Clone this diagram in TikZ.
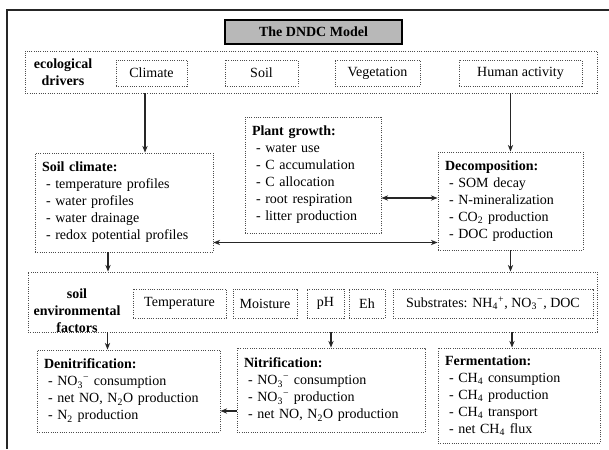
\documentclass[tikz,border=0pt]{standalone}
\usepackage{fontspec}
\setmainfont{Liberation Serif}
\usepackage{tikz}
\usetikzlibrary{arrows.meta,positioning}
\newdimen\px
\px=0.75pt
\newcommand{\litem}[1]{\hspace*{3pt}- #1}

\begin{document}
\begin{tikzpicture}[
	x=0.75pt, y=-0.75pt,
	every node/.style={font=\fontsize{10.5}{12.75}\selectfont},
	titlebox/.style={draw, line width=1pt, fill=black!28, inner sep=0pt},
	rowbox/.style={draw=black!70, densely dotted, line width=0.7pt, inner sep=0pt},
	itembox/.style={draw=black!70, densely dotted, line width=0.7pt, inner sep=0pt, minimum height=#1},
	listbox/.style={draw=black!70, densely dotted, line width=0.7pt, align=left, inner xsep=7\px, inner ysep=0pt},
	arrow/.style={-{Stealth[length=5pt,width=4pt]}, line width=0.8pt, black!85},
	twoway/.style={{Stealth[length=5pt,width=4pt]}-{Stealth[length=5pt,width=4pt]}, line width=0.8pt, black!85}
	]
	\useasboundingbox (0,0) rectangle (609,449);
	
	% outer frame
	\draw[line width=1.1pt, black!85] (7,449) -- (7,10) -- (609,10);
	
	\node[titlebox, minimum width=177\px, minimum height=24\px] (title) at (313.5,32) {\textbf{The DNDC Model}};
	
	% ecological drivers
	\node[rowbox, minimum width=572\px, minimum height=42\px] (drivers) at (311,72) {};
	\node[align=center] (drvlabel) at (63,72) {\textbf{ecological}\\\textbf{drivers}};
	\node[itembox=26\px, minimum width=71\px] (Climate) at (151.5,73) {Climate};
	\node[itembox=26\px, minimum width=73\px] (Soil) at (261.5,73) {Soil};
	\node[itembox=26\px, minimum width=85\px] (Veg) at (377.5,73) {Vegetation};
	\node[itembox=26\px, minimum width=123\px] (Human) at (520.5,73) {Human activity};
	
	% processes
	\node[listbox, text width=164\px, minimum height=99\px] (SoilClim) at (124,202.5) {\textbf{Soil climate:}\\
		\litem{temperature profiles}\\ \litem{water profiles}\\ \litem{water drainage}\\ \litem{redox potential profiles}};
	\node[listbox, text width=122\px, minimum height=116\px] (PlantG) at (313,175) {\textbf{Plant growth:}\\
		\litem{water use}\\ \litem{C accumulation}\\ \litem{C allocation}\\ \litem{root respiration}\\ \litem{litter production}};
	\node[listbox, text width=131\px, minimum height=98\px] (Decomp) at (510.5,201) {\textbf{Decomposition:}\\
		\litem{SOM decay}\\ \litem{N-mineralization}\\ \litem{CO\textsubscript{2} production}\\ \litem{DOC production}};
	
	% soil environmental factors
	\node[rowbox, minimum width=569\px, minimum height=60\px] (SoilEnv) at (312.5,302) {};
	\node[align=center] (envlabel) at (77,311) {\textbf{soil}\\\textbf{environmental}\\\textbf{factors}};
	\node[itembox=29\px, minimum width=93\px] (Temp) at (179.5,303.5) {Temperature};
	\node[itembox=29\px, minimum width=64\px] (Moist) at (265,303.5) {Moisture};
	\node[itembox=29\px, minimum width=37\px] (pH) at (325.5,303.5) {pH};
	\node[itembox=29\px, minimum width=36\px] (Eh) at (367,303.5) {Eh};
	\node[itembox=29\px, minimum width=200\px] (Subs) at (493,303.5) {Substrates: NH\textsubscript{4}\textsuperscript{+}, NO\textsubscript{3}\textsuperscript{−}, DOC};
	
	% gas production
	\node[listbox, text width=169\px, minimum height=82\px] (Denit) at (128.5,391) {\textbf{Denitrification:}\\
		\litem{NO\textsubscript{3}\textsuperscript{−} consumption}\\ \litem{net NO, N\textsubscript{2}O production}\\ \litem{N\textsubscript{2} production}};
	\node[listbox, text width=174\px, minimum height=84\px] (Nitrif) at (331,390) {\textbf{Nitrification:}\\
		\litem{NO\textsubscript{3}\textsuperscript{−} consumption}\\ \litem{NO\textsubscript{3}\textsuperscript{−} production}\\ \litem{net NO, N\textsubscript{2}O production}};
	\node[listbox, text width=148\px, minimum height=95\px] (Ferm) at (519,395.5) {\textbf{Fermentation:}\\
		\litem{CH\textsubscript{4} consumption}\\ \litem{CH\textsubscript{4} production}\\ \litem{CH\textsubscript{4} transport}\\ \litem{net CH\textsubscript{4} flux}};
	
	% connectors
	\draw[arrow] ([xshift=-6.5\px]Climate.south |- drivers.south) -- ([xshift=-6.5\px]Climate.south |- SoilClim.north);
	\draw[arrow] (Decomp.north |- drivers.south) -- (Decomp.north);
	\draw[twoway] ([yshift=-23\px]PlantG.east) -- ([yshift=-23\px]PlantG.east -| Decomp.west);
	\draw[twoway] ([yshift=-40\px]SoilClim.east) -- ([yshift=-40\px]SoilClim.east -| Decomp.west);
	\draw[arrow] ([xshift=-16\px]SoilClim.south) -- ([xshift=-16\px]SoilClim.south |- SoilEnv.north);
	\draw[arrow] (Decomp.south) -- (Decomp.south |- SoilEnv.north);
	\draw[arrow] ([xshift=-21\px]Denit.north |- SoilEnv.south) -- ([xshift=-21\px]Denit.north);
	\draw[arrow] (Nitrif.north |- SoilEnv.south) -- (Nitrif.north);
	\draw[arrow] ([xshift=-7\px]Ferm.north |- SoilEnv.south) -- ([xshift=-7\px]Ferm.north);
	\draw[arrow] ([yshift=-21\px]Nitrif.west) -- ([yshift=-21\px]Nitrif.west -| Denit.east);
	
\end{tikzpicture}
\end{document}
